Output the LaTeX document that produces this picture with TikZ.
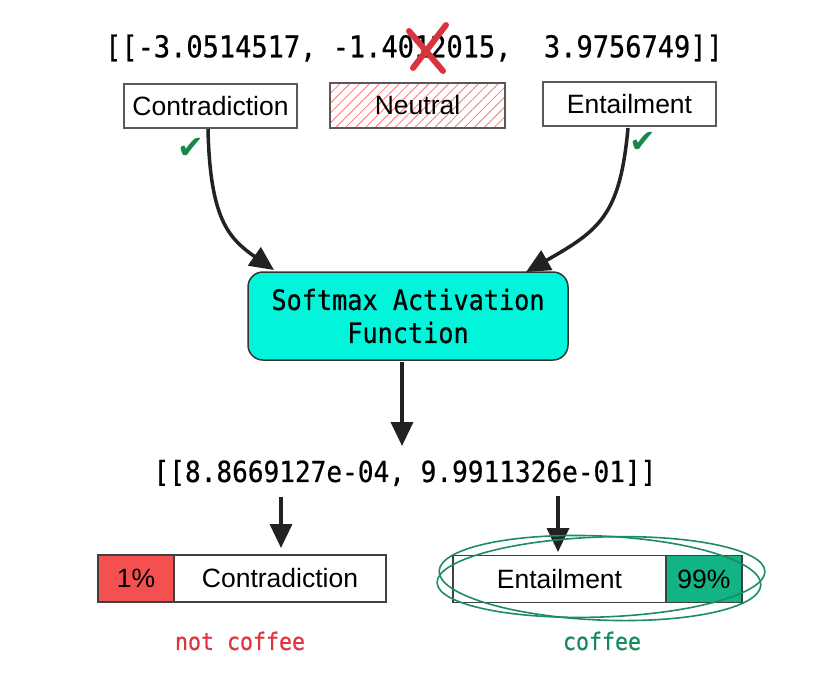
\documentclass[tikz,border=0pt]{standalone}
\usepackage{fontspec}
\setmainfont{Liberation Sans}
\setmonofont{DejaVu Sans Mono}[FakeStretch=0.9, FakeBold=0.6]
\newfontfamily\symfont{DejaVu Sans}
\usetikzlibrary{arrows.meta,patterns.meta}
\definecolor{cyanfill}{HTML}{00F5DA}
\definecolor{redfill}{HTML}{F55050}
\definecolor{greenfill}{HTML}{12B384}
\definecolor{checkgreen}{HTML}{14894A}
\definecolor{ringgreen}{HTML}{1C8C68}
\definecolor{xred}{HTML}{D8343C}
\definecolor{notred}{HTML}{E0353F}
\definecolor{cofgreen}{HTML}{178A5C}
\definecolor{arrowdark}{HTML}{222222}
\tikzset{
  lbl/.style={draw=black!65, line width=1.2pt, fill=white, minimum width=173pt, minimum height=44pt,
    inner sep=0pt, font=\fontsize{26.5}{30}\selectfont},
  barbox/.style={draw=black!75, line width=1.2pt, minimum height=47pt, inner sep=0pt,
    font=\fontsize{26.5}{30}\selectfont},
  monotext/.style={font=\ttfamily\fontsize{30}{34}\selectfont, inner sep=0pt},
  smx/.style={draw=black!80, line width=1.5pt, fill=cyanfill, rounded corners=15pt,
    minimum width=320pt, minimum height=88pt, align=center,
    font=\ttfamily\fontsize{28}{33}\selectfont},
  arr/.style={draw=arrowdark, line width=3.5pt,
    -{Triangle[length=24pt,width=22pt]}},
  xstroke/.style={draw=xred, line width=6pt, line cap=round},
  chk/.style={text=checkgreen, font=\symfont\fontsize{32}{32}\selectfont, inner sep=0pt},
  ring/.style={draw=ringgreen, line width=1.6pt},
}
\begin{document}
\begin{tikzpicture}[x=1pt,y=-1pt]
\useasboundingbox (0,0) rectangle (838,681);

% top numbers
\node[monotext] (top) at (414,48) {[[-3.0514517, -1.4012015,\ \ 3.9756749]]};
\coordinate (xa1) at (409,31);
\coordinate (xa2) at (443,71);
\coordinate (xb1) at (446,25);
\coordinate (xb2) at (413,68);
\draw[xstroke] (xa1) -- (xa2);
\draw[xstroke] (xb1) -- (xb2);

% class boxes
\node[lbl] (c) at (210.5,106) {Contradiction};
\node[lbl, minimum width=175pt, minimum height=45pt,
  pattern={Lines[angle=45,distance=7pt,line width=0.8pt]}, pattern color=red!55] (n) at (417.5,105.5) {};
\node[font=\fontsize{26.5}{30}\selectfont, inner sep=0pt] (nt) at (n.center) {Neutral};
\node[lbl] (e) at (629.5,104) {Entailment};

% checks
\node[chk] (ck1) at (191,148) {✔};
\node[chk] (ck2) at (643,142) {✔};

% softmax
\node[smx] (s) at (408,316) {Softmax Activation\\Function};

% curved arrows
\coordinate (c1) at (208,129);
\coordinate (c1t) at (274,270);
\draw[arr] (c1) .. controls (210,218) and (228,238) .. (c1t);
\coordinate (e1) at (628,128);
\coordinate (e1t) at (526,272);
\draw[arr] (e1) .. controls (620,215) and (600,230) .. (e1t);

% result numbers
\node[monotext, font=\ttfamily\fontsize{29}{34}\selectfont] (res) at (405,473) {[[8.8669127e-04, 9.9911326e-01]]};

\coordinate (s1) at (402,362);
\coordinate (s1t) at (402,446);
\draw[arr] (s1) -- (s1t);

% bottom bars
\node[barbox, fill=redfill, minimum width=76pt] (p1) at (136,578.5) {1\%};
\node[barbox, fill=white, minimum width=212pt] (c2) at (280,578.5) {Contradiction};
\node[barbox, fill=white, minimum width=213pt] (e2) at (559.5,579) {Entailment};
\node[barbox, fill=greenfill, minimum width=76pt] (p2) at (704,579) {99\%};

\coordinate (l1) at (281,497);
\coordinate (l1t) at (281,548);
\draw[arr] (l1) -- (l1t);
\coordinate (r1) at (558,496);
\coordinate (r1t) at (558,552);
\draw[arr] (r1) -- (r1t);

% green scribble ring
\draw[ring] (601,577) ellipse [x radius=164pt, y radius=40pt, rotate=2];
\draw[ring] (600,578) ellipse [x radius=161pt, y radius=42pt, rotate=-2.5];

% labels
\node[monotext, text=notred, font=\ttfamily\fontsize{24}{28}\selectfont] (nc) at (240,641) {not coffee};
\node[monotext, text=cofgreen, font=\ttfamily\fontsize{24}{28}\selectfont] (cf) at (602,641) {coffee};
\end{tikzpicture}
\end{document}
